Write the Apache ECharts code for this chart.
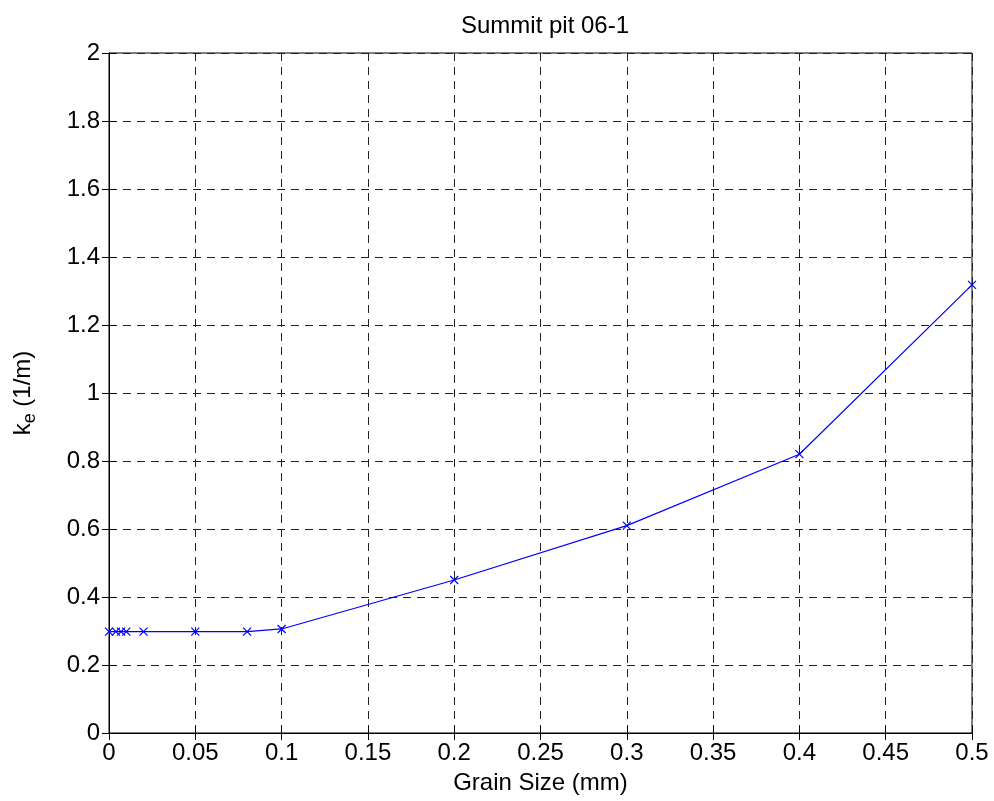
<!DOCTYPE html>
<html>
<head>
<meta charset="utf-8">
<script src="https://cdn.jsdelivr.net/npm/echarts@6/dist/echarts.min.js"></script>
<style>
  html, body { margin: 0; padding: 0; background: #fff; }
  #chart { width: 994px; height: 801px; }
</style>
</head>
<body>
<div id="chart"></div>
<script>
// Grain size (mm) and the extinction coefficient k_e (1/m) for each size
const grainSize = [0, 0.004, 0.007, 0.01, 0.02, 0.05, 0.08, 0.1, 0.2, 0.3, 0.4, 0.5];
const extinction = [0.298, 0.298, 0.298, 0.298, 0.298, 0.298, 0.298, 0.306, 0.45, 0.61, 0.82, 1.318];

const xTicks = [0, 0.05, 0.1, 0.15, 0.2, 0.25, 0.3, 0.35, 0.4, 0.45, 0.5];
const yTicks = [0, 0.2, 0.4, 0.6, 0.8, 1, 1.2, 1.4, 1.6, 1.8, 2];

const FONT = 'Liberation Sans, Arial, sans-serif';
const crossPath = 'path://M0,0L10,10M10,0L0,10';

const points = grainSize.map((g, i) => [g, extinction[i]]);

const dashed = { show: true, lineStyle: { color: '#222', type: [8, 6], width: 1 } };
const tick = { show: true, inside: true, length: 7, lineStyle: { color: '#000' } };
const pick = list => v => { const t = list.find(k => Math.abs(k - v) < 1e-9); return t === undefined ? '' : String(t); };

const chart = echarts.init(document.getElementById('chart'));
chart.setOption({
  backgroundColor: '#fff',
  animation: false,
  title: {
    text: 'Summit pit 06-1',
    left: 540, top: 9, textAlign: 'center',
    textStyle: { fontFamily: FONT, fontSize: 24, fontWeight: 'normal', color: '#000' }
  },
  grid: {
    left: 109, right: 22, top: 53, bottom: 68,
    show: true, borderColor: '#000', borderWidth: 1, backgroundColor: '#fff'
  },
  xAxis: [{
    type: 'value', min: 0, max: 0.5, interval: 0.05,
    name: 'Grain Size (mm)', nameLocation: 'middle', nameGap: 38,
    nameTextStyle: { fontFamily: FONT, fontSize: 24, color: '#000', verticalAlign: 'top' },
    axisLine: { show: true, lineStyle: { color: '#000' } },
    axisTick: tick,
    axisLabel: { fontFamily: FONT, fontSize: 24, color: '#000', margin: 8, formatter: pick(xTicks) },
    splitLine: dashed
  }, {
    type: 'value', min: 0, max: 0.5, interval: 0.05, position: 'top',
    axisLine: { show: true, lineStyle: { color: '#000' } },
    axisTick: tick,
    axisLabel: { show: false }, splitLine: { show: false }
  }],
  yAxis: [{
    type: 'value', min: 0, max: 2, interval: 0.2,
    name: '{k|k}{s|e}{k| (1/m)}', nameLocation: 'middle', nameGap: 70, nameRotate: 90,
    nameTextStyle: {
      rich: {
        k: { fontFamily: FONT, fontSize: 24, color: '#000' },
        s: { fontFamily: FONT, fontSize: 18, color: '#000', padding: [14, 0, 0, 0] }
      }
    },
    axisLine: { show: true, lineStyle: { color: '#000' } },
    axisTick: tick,
    axisLabel: { fontFamily: FONT, fontSize: 24, color: '#000', margin: 9, formatter: pick(yTicks) },
    splitLine: dashed
  }, {
    type: 'value', min: 0, max: 2, interval: 0.2, position: 'right',
    axisLine: { show: true, lineStyle: { color: '#000' } },
    axisTick: tick,
    axisLabel: { show: false }, splitLine: { show: false }
  }],
  series: [{
    type: 'line',
    data: points,
    lineStyle: { color: '#0000ff', width: 1.2 },
    symbol: crossPath,
    symbolSize: 8,
    showAllSymbol: true,
    itemStyle: { color: 'rgba(0,0,0,0)', borderColor: '#0000ff', borderWidth: 1.2 },
    emphasis: { disabled: true }
  }]
});
</script>
</body>
</html>
